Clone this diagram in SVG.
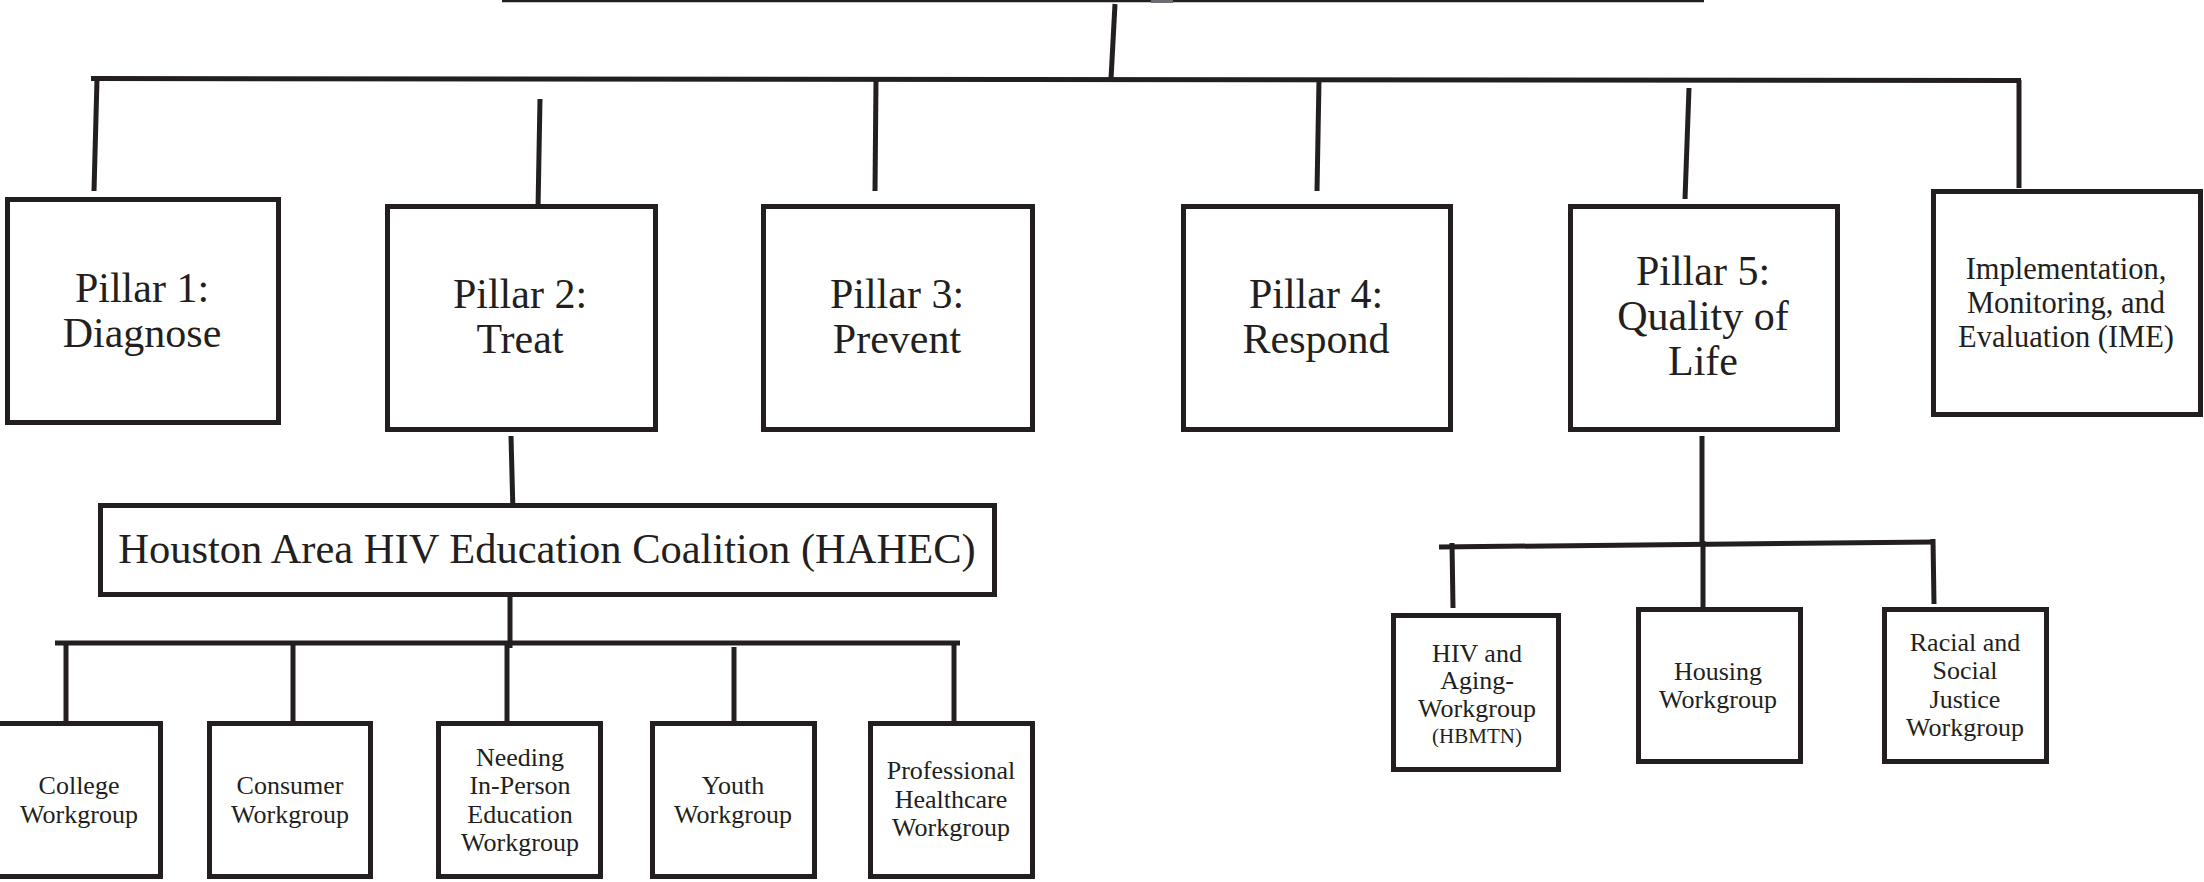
<svg xmlns="http://www.w3.org/2000/svg" width="2204" height="882" viewBox="0 0 2204 882">
<style>
.bg{fill:#ffffff}
.box{fill:#ffffff;stroke:#231f20;stroke-width:5}
.ln{stroke:#231f20;stroke-width:5;fill:none}
.t{font-family:"Liberation Serif","Times New Roman",serif;fill:#231f20;text-anchor:middle}
.big{font-size:42px}
.mid{font-size:30.5px}
.hahec{font-size:42.5px}
.sm{font-size:26px}
.xs{font-size:21px}
</style>
<rect class="bg" x="0" y="0" width="2204" height="882"/>
<g id="connectors">
<line x1="502" y1="1" x2="1704" y2="1" stroke="#231f20" stroke-width="2.5"/>
<rect x="1151" y="0" width="22" height="3" fill="#6d6e71"/>
<line class="ln" x1="1115" y1="4" x2="1111" y2="79"/>
<line class="ln" x1="91" y1="78.5" x2="2021" y2="80.5"/>
<line class="ln" x1="97" y1="79" x2="94" y2="191"/>
<line class="ln" x1="540" y1="99" x2="538" y2="209"/>
<line class="ln" x1="876" y1="80" x2="875" y2="191"/>
<line class="ln" x1="1319" y1="80" x2="1317" y2="191"/>
<line class="ln" x1="1689" y1="88" x2="1685" y2="199"/>
<line class="ln" x1="2019" y1="80" x2="2019" y2="188"/>
<line class="ln" x1="511" y1="436" x2="513" y2="513"/>
<line class="ln" x1="510" y1="597" x2="510" y2="648"/>
<line class="ln" x1="55" y1="643" x2="960" y2="643"/>
<line class="ln" x1="66" y1="643" x2="66" y2="723"/>
<line class="ln" x1="293" y1="643" x2="293" y2="723"/>
<line class="ln" x1="507" y1="643" x2="507" y2="728"/>
<line class="ln" x1="734" y1="647" x2="734" y2="728"/>
<line class="ln" x1="954" y1="643" x2="954" y2="723"/>
<line class="ln" x1="1702" y1="436" x2="1702" y2="544"/>
<line class="ln" x1="1439" y1="547" x2="1934" y2="542"/>
<line class="ln" x1="1452" y1="543" x2="1453" y2="608"/>
<line class="ln" x1="1703" y1="541" x2="1703" y2="607"/>
<line class="ln" x1="1933" y1="539" x2="1934" y2="604"/>
</g>
<g id="pillar1">
<rect class="box" x="7.5" y="199.5" width="271" height="223"/>
<text class="t big" x="142" y="302">Pillar 1:</text>
<text class="t big" x="142" y="347">Diagnose</text>
</g>
<g id="pillar2">
<rect class="box" x="387.5" y="206.5" width="268" height="223"/>
<text class="t big" x="520" y="308">Pillar 2:</text>
<text class="t big" x="520" y="353">Treat</text>
</g>
<g id="pillar3">
<rect class="box" x="763.5" y="206.5" width="269" height="223"/>
<text class="t big" x="897" y="308">Pillar 3:</text>
<text class="t big" x="897" y="353">Prevent</text>
</g>
<g id="pillar4">
<rect class="box" x="1183.5" y="206.5" width="267" height="223"/>
<text class="t big" x="1316" y="308">Pillar 4:</text>
<text class="t big" x="1316" y="353">Respond</text>
</g>
<g id="pillar5">
<rect class="box" x="1570.5" y="206.5" width="267" height="223"/>
<text class="t big" x="1703" y="285">Pillar 5:</text>
<text class="t big" x="1703" y="330">Quality of</text>
<text class="t big" x="1703" y="375">Life</text>
</g>
<g id="ime">
<rect class="box" x="1933.5" y="191.5" width="267" height="223"/>
<text class="t mid" x="2066" y="279">Implementation,</text>
<text class="t mid" x="2066" y="313">Monitoring, and</text>
<text class="t mid" x="2066" y="347">Evaluation (IME)</text>
</g>
<g id="hahec">
<rect class="box" x="100.5" y="505.5" width="894" height="89"/>
<text class="t hahec" x="547" y="563">Houston Area HIV Education Coalition (HAHEC)</text>
</g>
<g id="college">
<rect class="box" x="-10" y="723.5" width="170.5" height="153"/>
<text class="t sm" x="79" y="794">College</text>
<text class="t sm" x="79" y="823">Workgroup</text>
</g>
<g id="consumer">
<rect class="box" x="209.5" y="723.5" width="161" height="153"/>
<text class="t sm" x="290" y="794">Consumer</text>
<text class="t sm" x="290" y="823">Workgroup</text>
</g>
<g id="needing">
<rect class="box" x="438.5" y="723.5" width="162" height="153"/>
<text class="t sm" x="520" y="766">Needing</text>
<text class="t sm" x="520" y="794">In-Person</text>
<text class="t sm" x="520" y="823">Education</text>
<text class="t sm" x="520" y="851">Workgroup</text>
</g>
<g id="youth">
<rect class="box" x="652.5" y="723.5" width="162" height="153"/>
<text class="t sm" x="733" y="794">Youth</text>
<text class="t sm" x="733" y="823">Workgroup</text>
</g>
<g id="professional">
<rect class="box" x="870.5" y="723.5" width="162" height="153"/>
<text class="t sm" x="951" y="779">Professional</text>
<text class="t sm" x="951" y="808">Healthcare</text>
<text class="t sm" x="951" y="836">Workgroup</text>
</g>
<g id="hiv-aging">
<rect class="box" x="1393.5" y="615.5" width="165" height="154"/>
<text class="t sm" x="1477" y="662">HIV and</text>
<text class="t sm" x="1477" y="689">Aging-</text>
<text class="t sm" x="1477" y="717">Workgroup</text>
<text class="t xs" x="1477" y="743">(HBMTN)</text>
</g>
<g id="housing">
<rect class="box" x="1638.5" y="609.5" width="162" height="152"/>
<text class="t sm" x="1718" y="680">Housing</text>
<text class="t sm" x="1718" y="708">Workgroup</text>
</g>
<g id="racial">
<rect class="box" x="1884.5" y="609.5" width="162" height="152"/>
<text class="t sm" x="1965" y="651">Racial and</text>
<text class="t sm" x="1965" y="679">Social</text>
<text class="t sm" x="1965" y="708">Justice</text>
<text class="t sm" x="1965" y="736">Workgroup</text>
</g>
</svg>
